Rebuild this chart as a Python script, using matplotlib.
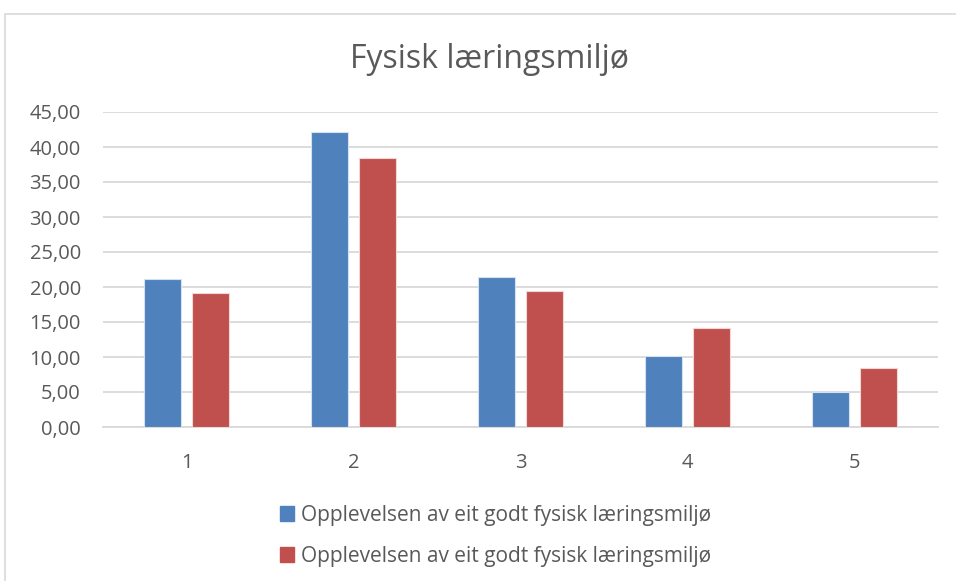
import matplotlib.pyplot as plt
import numpy as np
from matplotlib.patches import Patch

plt.rcParams['font.family'] = ['Open Sans', 'DejaVu Sans']

categories = ['1', '2', '3', '4', '5']
serie_a = [21.2, 42.2, 21.4, 10.1, 5.0]
serie_b = [19.2, 38.5, 19.5, 14.2, 8.5]
label_a = 'Opplevelsen av eit godt fysisk læringsmiljø'
label_b = 'Opplevelsen av eit godt fysisk læringsmiljø'
yticks = [0, 5, 10, 15, 20, 25, 30, 35, 40, 45]

blue = '#4F81BD'
red = '#C0504D'
txt = '#595959'
grid = '#D9D9D9'

fig = plt.figure(figsize=(9.56, 5.81), dpi=100)
# chart border like excel
fig.patches.append(plt.Rectangle((5 / 956, -0.01), 1.0, 1 - 14 / 581 + 0.01,
                                 transform=fig.transFigure, fill=False,
                                 edgecolor=grid, linewidth=1.2))

ax = fig.add_axes([103 / 956, 1 - 427 / 581, 835 / 956, 315 / 581])
x = np.arange(1, len(categories) + 1)
w = 0.222
off = 0.141
ax.bar(x - off, serie_a, w, color=blue, edgecolor='#D6E1F0', linewidth=0.8, zorder=3)
ax.bar(x + off, serie_b, w, color=red, edgecolor='#F0D6D5', linewidth=0.8, zorder=3)

ax.set_xlim(0.5, 5.5)
ax.set_ylim(0, 45)
ax.set_yticks(yticks)
ax.set_yticklabels([f'{v:.2f}'.replace('.', ',') for v in yticks])
ax.set_xticks(x)
ax.set_xticklabels(categories)
ax.tick_params(axis='both', length=0, labelsize=14.5, colors=txt)
ax.tick_params(axis='y', pad=16)
ax.tick_params(axis='x', pad=19)
ax.yaxis.grid(True, color=grid, linewidth=1.3, zorder=0)
for s in ['top', 'right', 'left']:
    ax.spines[s].set_visible(False)
ax.spines['bottom'].set_color(grid)
ax.spines['bottom'].set_linewidth(1.3)

fig.text(489 / 956, 1 - 60 / 581, 'Fysisk læringsmiljø', ha='center', va='center',
         fontsize=23, color=txt)

handles = [Patch(color=blue, label=label_a), Patch(color=red, label=label_b)]
fig.legend(handles=handles, loc='upper left', bbox_to_anchor=(261 / 956, 1 - 486 / 581),
           frameon=False, fontsize=15, labelcolor=txt, handlelength=0.7,
           handleheight=0.7, handletextpad=0.3, labelspacing=0.95)

fig.savefig('out.png', dpi=100)
